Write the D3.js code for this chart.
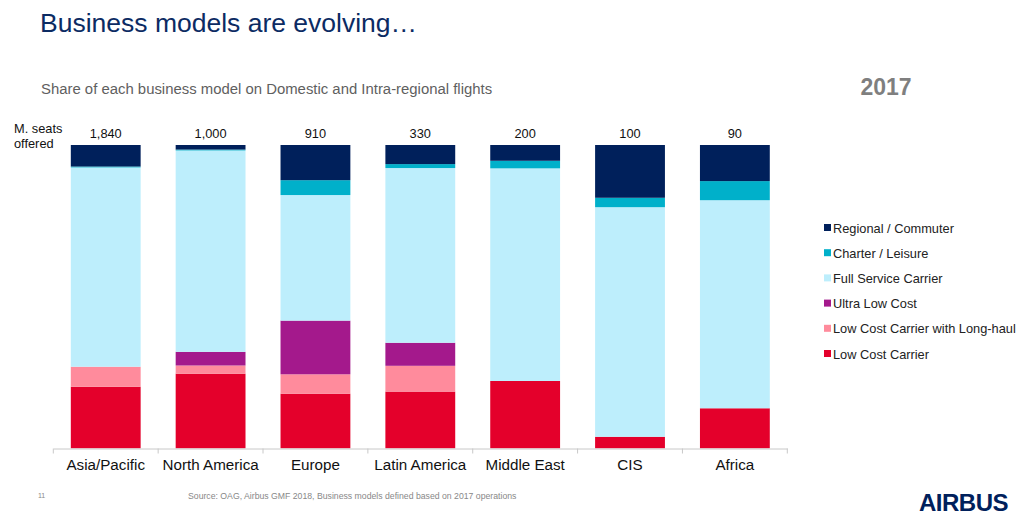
<!DOCTYPE html>
<html><head><meta charset="utf-8">
<script src="https://cdn.jsdelivr.net/npm/d3@7"></script>
<style>
html,body{margin:0;padding:0;background:#fff;}
svg{display:block;font-family:"Liberation Sans",Arial,sans-serif;}
</style></head>
<body>
<svg id="chart" width="1023" height="522"></svg>
<script>
const regions = ["Asia/Pacific","North America","Europe","Latin America","Middle East","CIS","Africa"];
const seatsLabels = ["1,840","1,000","910","330","200","100","90"];
const seriesNames = ["Low Cost Carrier","Low Cost Carrier with Long-haul","Ultra Low Cost","Full Service Carrier","Charter / Leisure","Regional / Commuter"];
const seriesColors = ["#e4002b","#ff8b9c","#a4198c","#bdeefc","#00b0ca","#00205b"];
// shares in % per region, bottom to top
const lowCost        = [20.3, 24.6, 18.0, 18.7, 22.2, 3.8, 13.2];
const lowCostLong    = [6.6, 2.7, 6.4, 8.5, 0, 0, 0];
const ultraLowCost   = [0, 4.5, 17.7, 7.6, 0, 0, 0];
const fullService    = [65.7, 66.4, 41.4, 57.6, 70.1, 75.7, 68.6];
const charter        = [0.3, 0.3, 4.9, 1.3, 2.5, 3.1, 6.3];
const regional       = [7.1, 1.5, 11.6, 6.3, 5.2, 17.4, 11.9];
const seriesValues = [lowCost, lowCostLong, ultraLowCost, fullService, charter, regional];

const table = regions.map((r,i)=>{
  const o = {region:r};
  seriesNames.forEach((s,j)=>{o[s]=seriesValues[j][i];});
  return o;
});

const svg = d3.select("#chart");
const navy = "#0c2b63";

// Titles
svg.append("text").attr("x",40).attr("y",32).attr("font-size",26.5).attr("fill",navy)
  .text("Business models are evolving…");
svg.append("text").attr("x",41).attr("y",94).attr("font-size",14.9).attr("fill","#5f5f5f")
  .text("Share of each business model on Domestic and Intra-regional flights");
svg.append("text").attr("x",886).attr("y",95).attr("font-size",23).attr("font-weight","bold")
  .attr("fill","#7f7f7f").attr("text-anchor","middle").text("2017");

const x = d3.scaleBand().domain(regions).range([53.3,787.3]).paddingInner(0.334).paddingOuter(0.167);
const y = d3.scaleLinear().domain([0,100]).range([448.3,145]);

const stack = d3.stack().keys(seriesNames);
const stacked = stack(table);

const g = svg.append("g");
g.selectAll("g.series").data(stacked).join("g")
  .attr("fill",(d,i)=>seriesColors[i])
  .selectAll("rect").data(d=>d).join("rect")
  .attr("x",d=>x(d.data.region))
  .attr("width",x.bandwidth())
  .attr("y",d=>y(d[1]))
  .attr("height",d=>Math.max(0,y(d[0])-y(d[1])));

// x axis
const xAxis = d3.axisBottom(x).tickSize(0).tickPadding(11);
const ax = svg.append("g").attr("transform","translate(0,448.5)").call(xAxis);
ax.select(".domain").attr("stroke","#c8c8c8");
ax.selectAll(".tick text").attr("font-size",15.2).attr("fill","#111").attr("font-family","Liberation Sans, Arial, sans-serif");
// boundary ticks between bands
const bounds = regions.map(r=>x(r)-x.step()*x.paddingOuter()).concat([x.range()[1]]);
ax.selectAll("line.sep").data(bounds).join("line").attr("class","sep")
  .attr("x1",d=>d).attr("x2",d=>d).attr("y1",0).attr("y2",5).attr("stroke","#c8c8c8");

// seat labels
svg.append("g").selectAll("text").data(regions).join("text")
  .attr("x",d=>x(d)+x.bandwidth()/2).attr("y",138).attr("text-anchor","middle")
  .attr("font-size",12.8).attr("fill","#111").text((d,i)=>seatsLabels[i]);
svg.append("text").attr("x",14).attr("y",133).attr("font-size",12.8).attr("fill","#111").text("M. seats");
svg.append("text").attr("x",14).attr("y",148).attr("font-size",12.8).attr("fill","#111").text("offered");

// legend (top to bottom: reverse order)
const legendItems = seriesNames.map((n,i)=>({name:n,color:seriesColors[i]})).reverse();
const lg = svg.append("g").attr("transform","translate(824,228)");
const li = lg.selectAll("g").data(legendItems).join("g").attr("transform",(d,i)=>`translate(0,${i*25.2})`);
li.append("rect").attr("x",0).attr("y",-4).attr("width",7).attr("height",7).attr("fill",d=>d.color);
li.append("text").attr("x",9).attr("y",4.5).attr("font-size",12.8).attr("fill","#222").text(d=>d.name);

// footer
svg.append("text").attr("x",38).attr("y",498).attr("font-size",7).attr("fill","#888").text("11");
svg.append("text").attr("x",188).attr("y",499).attr("font-size",8.7).attr("fill","#888")
  .text("Source: OAG, Airbus GMF 2018, Business models defined based on 2017 operations");
svg.append("text").attr("x",1008).attr("y",511).attr("text-anchor","end").attr("font-size",24)
  .attr("font-weight","bold").attr("fill","#00205b").attr("letter-spacing","-0.5").text("AIRBUS");
</script>
</body></html>
